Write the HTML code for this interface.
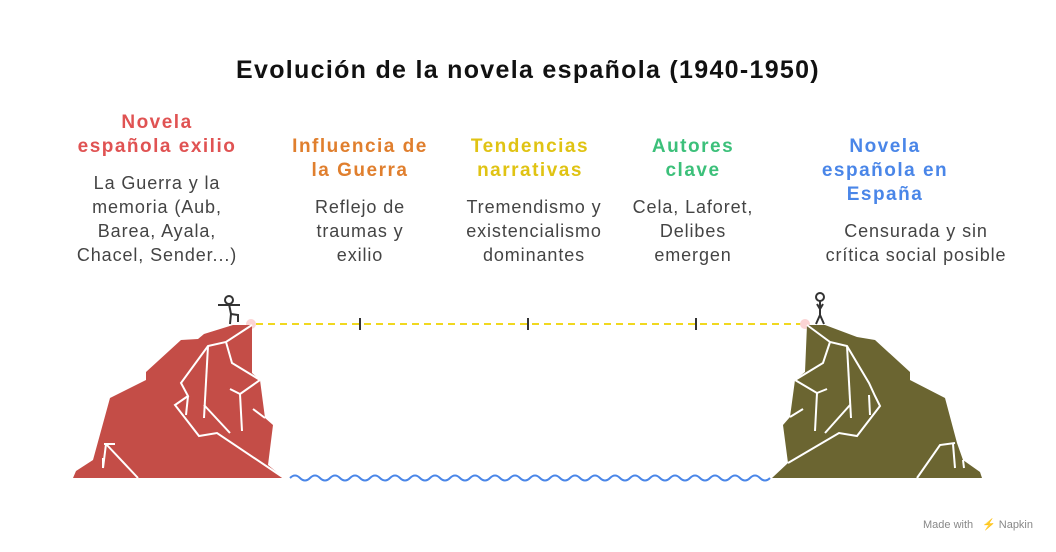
<!DOCTYPE html>
<html><head><meta charset="utf-8"><style>
body{margin:0;width:1056px;height:552px;background:#fff;position:relative;overflow:hidden;font-family:"Liberation Sans","DejaVu Sans",sans-serif}
.t{position:absolute;text-align:center;white-space:nowrap}
.h{font-weight:bold;font-size:19px;line-height:24px;letter-spacing:1.5px}
.b{font-size:18px;line-height:24px;color:#444;letter-spacing:0.9px}
</style></head><body>
<div class="t" style="left:0;width:1056px;top:55px;font-size:25px;font-weight:bold;color:#111;line-height:30px;letter-spacing:1.3px">Evolución de la novela española (1940-1950)</div>

<div class="t h" style="left:57px;width:200px;top:111px;color:#e05353">Novela<br>española exilio</div>
<div class="t b" style="left:57px;width:200px;top:171px">La Guerra y la<br>memoria (Aub,<br>Barea, Ayala,<br>Chacel, Sender...)</div>

<div class="t h" style="left:260px;width:200px;top:135px;color:#e07f2e">Influencia de<br>la Guerra</div>
<div class="t b" style="left:260px;width:200px;top:195px">Reflejo de<br>traumas y<br>exilio</div>

<div class="t h" style="left:430px;width:200px;top:135px;color:#e0c313">Tendencias<br>narrativas</div>
<div class="t b" style="left:434px;width:200px;top:195px">Tremendismo y<br>existencialismo<br>dominantes</div>

<div class="t h" style="left:593px;width:200px;top:135px;color:#3cc07a">Autores<br>clave</div>
<div class="t b" style="left:593px;width:200px;top:195px">Cela, Laforet,<br>Delibes<br>emergen</div>

<div class="t h" style="left:785px;width:200px;top:135px;color:#4a86e8">Novela<br>española en<br>España</div>
<div class="t b" style="left:816px;width:200px;top:219px">Censurada y sin<br>crítica social posible</div>

<svg width="1056" height="552" style="position:absolute;left:0;top:0">
<line x1="256" y1="324" x2="803" y2="324" stroke="#f0d820" stroke-width="2" stroke-dasharray="7,5"/>
<g stroke="#333" stroke-width="2"><line x1="360" y1="318" x2="360" y2="330"/><line x1="528" y1="318" x2="528" y2="330"/><line x1="696" y1="318" x2="696" y2="330"/></g>
<circle cx="251" cy="324" r="5" fill="#fbd4d4"/><circle cx="805" cy="324" r="5" fill="#fbd4d4"/>
<path d="M290 478 q5 -5 10 0 t10 0 t10 0 t10 0 t10 0 t10 0 t10 0 t10 0 t10 0 t10 0 t10 0 t10 0 t10 0 t10 0 t10 0 t10 0 t10 0 t10 0 t10 0 t10 0 t10 0 t10 0 t10 0 t10 0 t10 0 t10 0 t10 0 t10 0 t10 0 t10 0 t10 0 t10 0 t10 0 t10 0 t10 0 t10 0 t10 0 t10 0 t10 0 t10 0 t10 0 t10 0 t10 0 t10 0 t10 0 t10 0 t10 0 t10 0" fill="none" stroke="#4a86e8" stroke-width="2"/>
<polygon points="73,478 76,471 93,460 110,398 146,380 146,372 181,340 198,339 204,334 233,325 252,325 252,373 260,380 265,418 273,425 268,465 284,478" fill="#c44d47"/>
<g fill="none" stroke="#fff" stroke-width="2">
<polyline points="252,325 226,342 208,346 181,383 188,396 175,405 199,436 217,433 284,478"/>
<polyline points="208,346 204,418"/><polyline points="226,342 232,363 260,380"/>
<polyline points="260,380 240,394 242,431"/><polyline points="240,394 230,389"/>
<polyline points="188,396 186,415"/><polyline points="204,405 230,433"/><polyline points="253,409 265,418"/>
<polyline points="103,468 106,444 104,444"/><polyline points="104,444 115,444"/><polyline points="106,444 138,478"/><polyline points="103,468 103,458"/>
</g>
<polygon points="807,325 825,325 857,337 875,340 910,372 910,380 945,398 957,443 963,460 980,472 982,478 772,478 788,463 783,425 790,417 795,380 805,372" fill="#6b6531"/>
<g fill="none" stroke="#fff" stroke-width="2">
<polyline points="807,325 830,342 847,346 869,383 875,396 880,406 857,436 839,433 788,463"/>
<polyline points="847,346 851,418"/><polyline points="830,342 823,363 795,380 817,393 815,431"/>
<polyline points="817,393 827,389"/><polyline points="869,395 870,415"/><polyline points="850,405 825,433"/>
<polyline points="790,417 803,409"/><polyline points="955,443 940,445 917,478"/><polyline points="953,444 955,468"/><polyline points="963,460 964,468"/>
</g>
<g fill="none" stroke="#333" stroke-width="2">
<circle cx="229" cy="300" r="4"/><line x1="229" y1="304" x2="231" y2="314"/><line x1="218" y1="305" x2="240" y2="305"/>
<polyline points="231,314 230,324"/><polyline points="231,314 238,315 238,322"/>
<circle cx="820" cy="297" r="4"/><line x1="820" y1="301" x2="820" y2="315"/><polyline points="817,304 820,309 823,304"/>
<polyline points="816,324 820,315 824,324"/>
</g>
<text x="923" y="528" font-size="11" fill="#888" font-family="Liberation Sans, sans-serif">Made with</text>
<text x="982" y="528" font-size="11" fill="#888" font-family="Liberation Sans, sans-serif">⚡ Napkin</text>
</svg>
</body></html>
